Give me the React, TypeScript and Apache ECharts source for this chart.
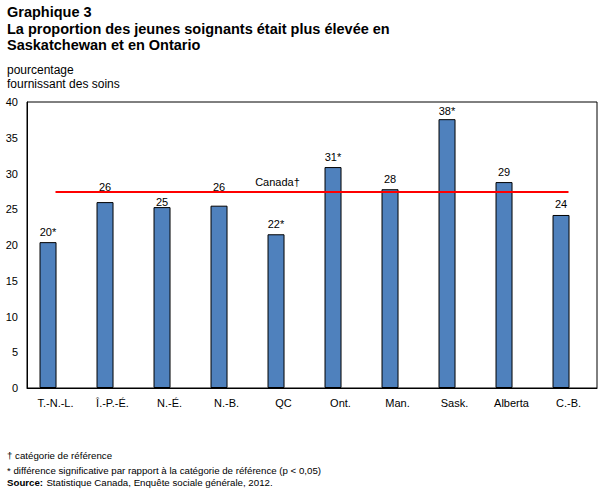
import React, { useEffect, useRef } from "react";
import * as echarts from "echarts";

const categories = ["T.-N.-L.", "Î.-P.-É.", "N.-É.", "N.-B.", "QC", "Ont.", "Man.", "Sask.", "Alberta", "C.-B."];
const values = [20.4, 26.0, 25.3, 25.5, 21.5, 30.9, 27.8, 37.6, 28.8, 24.2];
const valueLabels = ["20*", "26", "25", "26", "22*", "31*", "28", "38*", "29", "24"];
const canadaValue = 27.4;
const canadaLabel = "Canada†";
const yTicks = { min: 0, max: 40, interval: 5 };

const FONT = "'Liberation Sans', Arial, sans-serif";
// vertical nudges of value labels (layout only), as in the reference
const labelNudges = [0, -5, 5, -8, 0, 0, 0, 2, 0, 0];

export default function App() {
  const ref = useRef<HTMLDivElement>(null);
  useEffect(() => {
    if (!ref.current) return;
    const chart = echarts.init(ref.current, null, { renderer: "svg" });
    const canadaData = categories.map((_, i) =>
      i === 4
        ? {
            value: canadaValue,
            label: {
              show: true,
              formatter: canadaLabel,
              position: "top",
              distance: 5,
              offset: [-6, 0],
              color: "#000",
              fontSize: 11,
              fontFamily: FONT,
            },
          }
        : canadaValue
    );
    const barData = values.map((v, i) => ({
      value: v,
      label: { offset: [0, labelNudges[i]] },
    }));
    chart.setOption({
      animation: false,
      backgroundColor: "#fff",
      textStyle: { fontFamily: FONT },
      graphic: [
        {
          type: "text",
          left: 7,
          top: 4,
          style: {
            text: "Graphique 3\nLa proportion des jeunes soignants était plus élevée en\nSaskatchewan et en Ontario",
            font: `bold 14.5px ${FONT}`,
            lineHeight: 16.5,
            fill: "#000",
          },
        },
        {
          type: "text",
          left: 7,
          top: 63,
          style: {
            text: "pourcentage\nfournissant des soins",
            font: `12px ${FONT}`,
            lineHeight: 14,
            fill: "#000",
          },
        },
        {
          type: "text",
          left: 7,
          top: 450,
          style: { text: "† catégorie de référence", font: `9.7px ${FONT}`, fill: "#000" },
        },
        {
          type: "text",
          left: 7,
          top: 465,
          style: {
            text: "* différence significative par rapport à la catégorie de référence (p < 0,05)",
            font: `9.7px ${FONT}`,
            fill: "#000",
          },
        },
        {
          type: "text",
          left: 7,
          top: 476,
          style: {
            rich: {
              b: { font: `bold 9.7px ${FONT}`, fill: "#000" },
              n: { font: `9.7px ${FONT}`, fill: "#000" },
            },
            text: "{b|Source:} {n|Statistique Canada, Enquête sociale générale, 2012.}",
          },
        },
      ],
      grid: { left: 27, right: 12, top: 102, bottom: 105, show: true, borderColor: "#000", borderWidth: 1 },
      xAxis: {
        type: "category",
        data: categories,
        boundaryGap: true,
        axisLine: { show: true, lineStyle: { color: "#000", width: 1 } },
        axisTick: { show: false },
        axisLabel: { color: "#000", fontSize: 11, fontFamily: FONT, margin: 9 },
      },
      yAxis: {
        type: "value",
        min: yTicks.min,
        max: yTicks.max,
        interval: yTicks.interval,
        splitLine: { show: false },
        axisLine: { show: true, lineStyle: { color: "#000", width: 1 } },
        axisTick: { show: false },
        axisLabel: { color: "#000", fontSize: 11, fontFamily: FONT, margin: 9 },
      },
      series: [
        {
          type: "bar",
          data: barData,
          barWidth: 17,
          barGap: "-12%",
          itemStyle: { color: "#4F81BD", borderColor: "#000", borderWidth: 1 },
          label: {
            show: true,
            position: "top",
            distance: 5,
            color: "#000",
            fontSize: 11,
            fontFamily: FONT,
            formatter: (p: any) => valueLabels[p.dataIndex],
          },
          z: 2,
        },
        {
          type: "bar",
          data: categories.map(() => "-"),
          barWidth: 17,
          silent: true,
        },
        {
          type: "line",
          data: canadaData,
          symbol: "circle",
          symbolSize: 0,
          showSymbol: true,
          itemStyle: { color: "#FF0000" },
          lineStyle: { color: "#FF0000", width: 2 },
          z: 3,
        },
      ],
    });
    return () => chart.dispose();
  }, []);
  return <div ref={ref} style={{ width: 609, height: 493, position: "absolute", left: 0, top: 0 }} />;
}
